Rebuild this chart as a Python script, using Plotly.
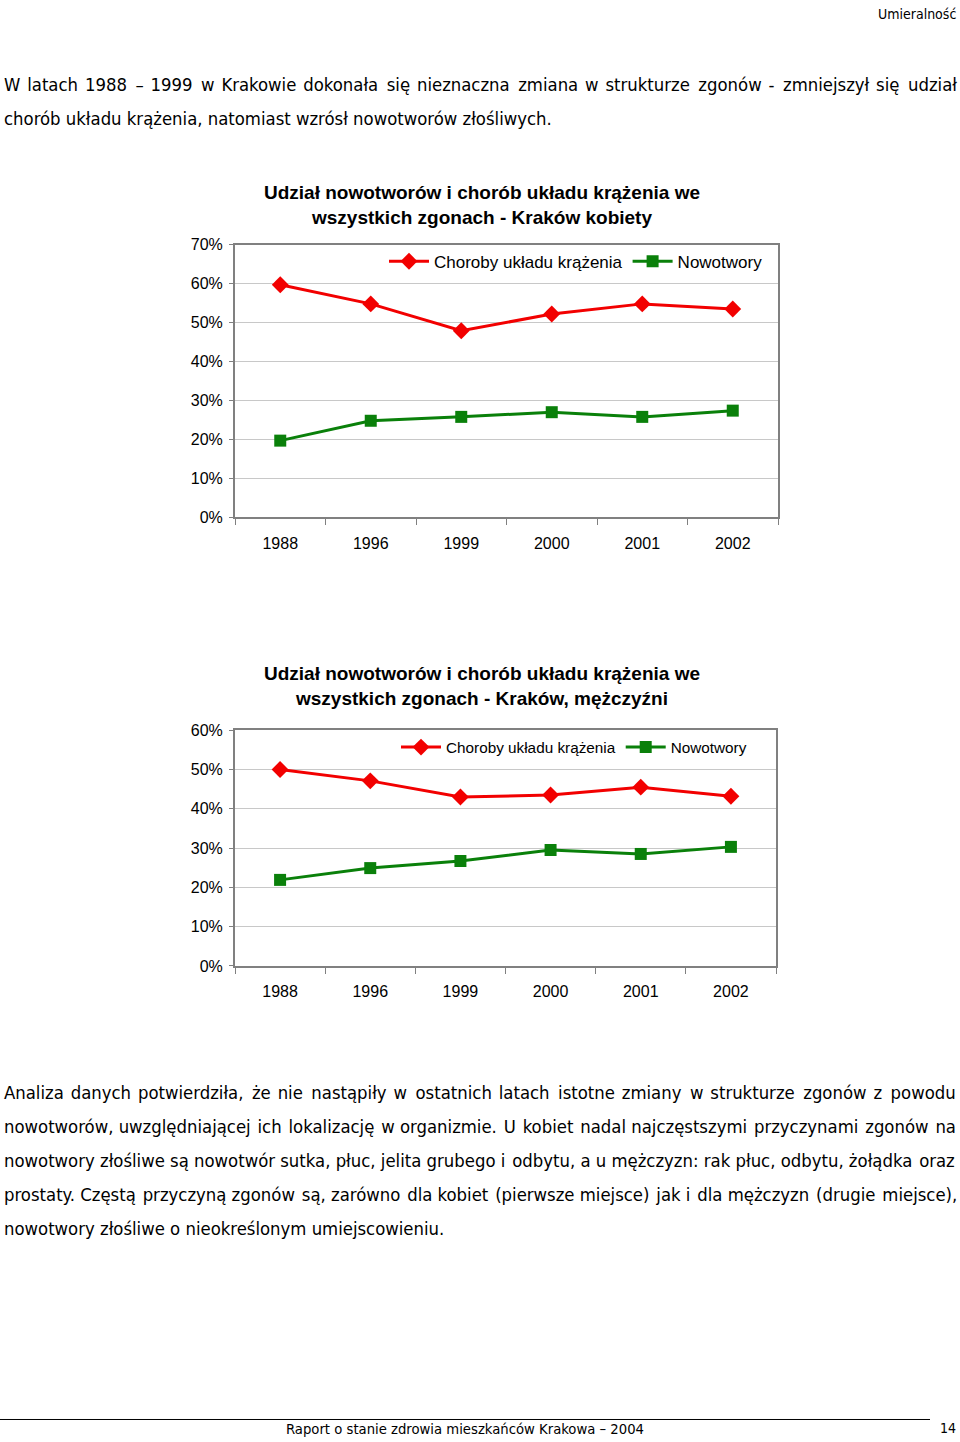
import plotly.graph_objects as go

# === Data ===
years = ['1988', '1996', '1999', '2000', '2001', '2002']
kobiety_krazenie = [0.597, 0.548, 0.479, 0.522, 0.548, 0.535]
kobiety_nowotwory = [0.197, 0.248, 0.258, 0.270, 0.258, 0.274]
mezczyzni_krazenie = [0.500, 0.471, 0.430, 0.435, 0.455, 0.432]
mezczyzni_nowotwory = [0.219, 0.249, 0.267, 0.295, 0.285, 0.303]

series_names = ['Choroby układu krążenia', 'Nowotwory']
title_k = 'Udział nowotworów i chorób układu krążenia we<br>wszystkich zgonach - Kraków kobiety'
title_m = 'Udział nowotworów i chorób układu krążenia we<br>wszystkich zgonach - Kraków, mężczyźni'

para_top = [
    'W latach 1988 – 1999 w Krakowie dokonała się nieznaczna zmiana w strukturze zgonów - zmniejszył się udział',
    'chorób układu krążenia, natomiast wzrósł nowotworów złośliwych.',
]
para_bottom = [
    'Analiza danych potwierdziła, że nie nastąpiły w ostatnich latach istotne zmiany w strukturze zgonów z powodu',
    'nowotworów, uwzględniającej ich lokalizację w organizmie. U kobiet nadal najczęstszymi przyczynami zgonów na',
    'nowotwory złośliwe są nowotwór sutka, płuc, jelita grubego i odbytu, a u mężczyzn: rak płuc, odbytu, żołądka oraz',
    'prostaty. Częstą przyczyną zgonów są, zarówno dla kobiet (pierwsze miejsce) jak i dla mężczyzn (drugie miejsce),',
    'nowotwory złośliwe o nieokreślonym umiejscowieniu.',
]
# extra pixels needed to justify each line (0 = last line of paragraph)
extra_top = [44, 0]
extra_bottom = [41, 17, 3, 14, 0]

W, H = 960, 1442
RED = '#f20000'
GREEN = '#0a800a'
CHART_FONT = 'Liberation Sans, Arial, sans-serif'
BODY_FONT = 'DejaVu Sans Condensed, DejaVu Sans, sans-serif'
BODY_SIZE = 18.35
HAIR = '\u200a'
HAIR_PX = 0.1 * BODY_SIZE  # rough width of a hair space

# the page photo puts the figure a few px lower and squeezes it a little,
# measured with a test frame: shown_y = 7.1 + 0.9892 * figure_y
Y_OFF, Y_SCALE = 7.1, 0.9892


def px(x):
    return x / W


def py(y):
    # y is a pixel row on the target page
    return 1 - ((y - Y_OFF) / Y_SCALE) / H


def justify(line, extra):
    # widen the gaps between words with hair spaces, like a justified paragraph
    words = line.split(' ')
    gaps = len(words) - 1
    total = int(round(extra / HAIR_PX))
    if total <= 0 or gaps == 0:
        return line
    out = words[0]
    for i in range(gaps):
        k = (i + 1) * total // gaps - i * total // gaps
        out += ' ' + HAIR * k + words[i + 1]
    return out


fig = go.Figure()

# Chart 1 - kobiety
fig.add_trace(go.Scatter(x=years, y=kobiety_krazenie, name=series_names[0], mode='lines+markers',
                         line=dict(color=RED, width=3), marker=dict(symbol='diamond', size=13, color=RED),
                         xaxis='x', yaxis='y', legend='legend'))
fig.add_trace(go.Scatter(x=years, y=kobiety_nowotwory, name=series_names[1], mode='lines+markers',
                         line=dict(color=GREEN, width=3), marker=dict(symbol='square', size=12, color=GREEN),
                         xaxis='x', yaxis='y', legend='legend'))

# Chart 2 - mezczyzni
fig.add_trace(go.Scatter(x=years, y=mezczyzni_krazenie, name=series_names[0], mode='lines+markers',
                         line=dict(color=RED, width=3), marker=dict(symbol='diamond', size=13, color=RED),
                         xaxis='x2', yaxis='y2', legend='legend2'))
fig.add_trace(go.Scatter(x=years, y=mezczyzni_nowotwory, name=series_names[1], mode='lines+markers',
                         line=dict(color=GREEN, width=3), marker=dict(symbol='square', size=12, color=GREEN),
                         xaxis='x2', yaxis='y2', legend='legend2'))

xcommon = dict(type='category', range=[-0.5, 5.5], tickson='boundaries', ticks='outside', ticklen=6,
               tickcolor='#808080', showline=True, linecolor='#808080', linewidth=2, mirror=True,
               showgrid=False, tickfont=dict(family=CHART_FONT, size=16, color='#000'),
               ticklabelstandoff=10, fixedrange=True)
ycommon = dict(dtick=0.1, tickformat='.0%', ticks='outside', ticklen=4, tickcolor='#808080',
               showline=True, linecolor='#808080', linewidth=2, mirror=True,
               showgrid=True, gridcolor='#c8c8c8', gridwidth=1, zeroline=False,
               tickfont=dict(family=CHART_FONT, size=16, color='#000'), ticklabelstandoff=3,
               fixedrange=True)

legend_common = dict(orientation='h', bgcolor='rgba(0,0,0,0)', borderwidth=0,
                     xanchor='left', yanchor='middle', itemwidth=40, tracegroupgap=0)

fig.update_layout(
    width=W, height=H,
    margin=dict(l=0, r=0, t=0, b=0),
    paper_bgcolor='white', plot_bgcolor='white',
    xaxis=dict(domain=[px(235), px(778)], anchor='y', **xcommon),
    yaxis=dict(domain=[py(517), py(244)], anchor='x', range=[0, 0.7], **ycommon),
    xaxis2=dict(domain=[px(235), px(776)], anchor='y2', **xcommon),
    yaxis2=dict(domain=[py(966), py(730)], anchor='x2', range=[0, 0.6], **ycommon),
    legend=dict(x=px(384), y=py(261), font=dict(family=CHART_FONT, size=17, color='#000'),
                **legend_common),
    legend2=dict(x=px(396), y=py(747), font=dict(family=CHART_FONT, size=15.3, color='#000'),
                 **legend_common),
)

annotations = []
# chart titles
for title, y in [(title_k, 204), (title_m, 686)]:
    annotations.append(dict(text='<b>' + title + '</b>', x=px(482), y=py(y), xref='paper', yref='paper',
                            xanchor='center', yanchor='middle', showarrow=False,
                            font=dict(family=CHART_FONT, size=19, color='#000')))

# header (kept inside the figure's top edge)
annotations.append(dict(text='Umieralność', x=px(958), y=1 - 6 / H, xref='paper', yref='paper',
                        xanchor='right', yanchor='middle', showarrow=False,
                        font=dict(family=BODY_FONT, size=14, color='#000')))

# body paragraphs
for i, line in enumerate(para_top):
    annotations.append(dict(text=justify(line, extra_top[i]), x=px(2), y=py(84 + 33.5 * i),
                            xref='paper', yref='paper', xanchor='left', yanchor='middle', showarrow=False,
                            font=dict(family=BODY_FONT, size=BODY_SIZE, color='#000')))
for i, line in enumerate(para_bottom):
    annotations.append(dict(text=justify(line, extra_bottom[i]), x=px(2), y=py(1093 + 34 * i),
                            xref='paper', yref='paper', xanchor='left', yanchor='middle', showarrow=False,
                            font=dict(family=BODY_FONT, size=BODY_SIZE, color='#000')))

# footer (kept inside the figure's bottom edge)
annotations.append(dict(text='Raport o stanie zdrowia mieszkańców Krakowa – 2004', x=px(465), y=5 / H,
                        xref='paper', yref='paper', xanchor='center', yanchor='middle', showarrow=False,
                        font=dict(family=BODY_FONT, size=14.7, color='#000')))
annotations.append(dict(text='14', x=px(958), y=py(1429), xref='paper', yref='paper',
                        xanchor='right', yanchor='middle', showarrow=False,
                        font=dict(family=BODY_FONT, size=14, color='#000')))

fig.update_layout(annotations=annotations)

fig.add_shape(type='line', xref='paper', yref='paper', x0=0, x1=px(930), y0=py(1420), y1=py(1420),
              line=dict(color='#000', width=1))

# drop the page's default margins so the figure fills the window
page_css = ("document.documentElement.style.margin='0';document.documentElement.style.padding='0';"
            "document.body.style.margin='0';document.body.style.padding='0';"
            "document.body.style.overflow='hidden';window.scrollTo(0,0);")
fig.write_html('out.html', config={'displayModeBar': False}, post_script=page_css)
